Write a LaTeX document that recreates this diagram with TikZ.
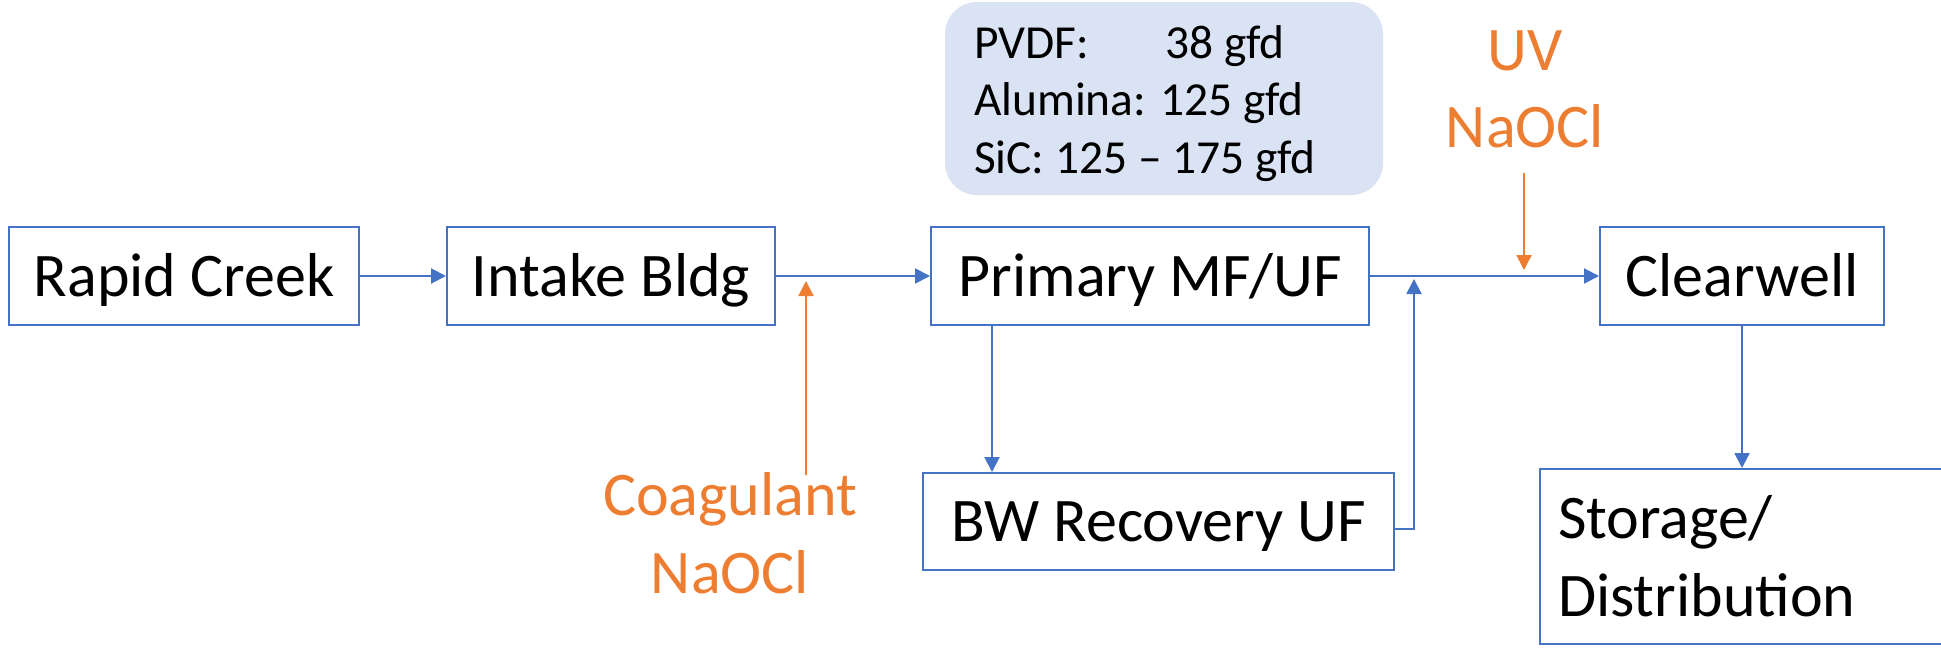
\documentclass[tikz,border=0pt]{standalone}
\usepackage{fontspec}
\setmainfont{Carlito}
\usetikzlibrary{arrows.meta,calc}
\definecolor{oblue}{HTML}{4472C4}
\definecolor{oorange}{HTML}{ED7D31}
\definecolor{lblue}{HTML}{DAE3F3}
\begin{document}
\begin{tikzpicture}[x=0.5pt,y=-0.5pt,
  box/.style={draw=oblue, line width=1pt, inner sep=0pt, minimum height=48.75pt,
    text height=25pt, text depth=5pt, font=\fontsize{31}{37.8}\selectfont},
  arr/.style={draw=oblue, line width=1pt, -{Triangle[length=7.5pt,width=7.5pt]}},
  oarr/.style={draw=oorange, line width=1pt, -{Triangle[length=7.5pt,width=7.5pt]}},
  lbl/.style={text=oorange, text width=200pt, align=center, anchor=north, inner sep=0pt,
    text height=20pt},
]
\clip (0,0) rectangle (1941,649);
\fill[white] (0,0) rectangle (1941,649);

% info box
\node[fill=lblue, rounded corners=16pt, minimum height=96.5pt, inner xsep=14.5pt, inner ysep=0pt,
      text width=190pt, align=flush left, text height=20pt, text depth=60.5pt,
      font=\fontsize{23.7}{28.75}\selectfont] (info) at (1164,98.5)
  {\rlap{PVDF:}\hphantom{Alumina: }\hspace{2.5pt}38 gfd\\Alumina: 125 gfd\\SiC: 125 – 175 gfd};

% process boxes
\node[box, minimum width=175pt] (rc) at (184,276) {Rapid Creek};
\node[box, minimum width=164pt] (ib) at (611,276) {Intake Bldg};
\node[box, minimum width=219pt] (pm) at (1150,276) {Primary MF/UF};
\node[box, minimum width=142pt] (cw) at (1742,276) {Clearwell};
\node[box, minimum width=235.5pt, minimum height=48.5pt] (bw) at (1158.5,521.5) {BW Recovery UF};
\node[draw=oblue, line width=1pt, anchor=north west, minimum height=87.5pt, inner xsep=9pt,
      inner ysep=0pt, text width=202pt, align=flush left, font=\fontsize{31}{39}\selectfont] (sd) at (1539,468)
  {Storage/\\Distribution};

% chemical labels
\node[lbl, text depth=51pt, font=\fontsize{31}{38.5}\selectfont] (uv) at (1525,30) {UV\\NaOCl};
\node[lbl, text depth=40pt, font=\fontsize{31}{39}\selectfont] (coag) at (730,475) {Coagulant\\NaOCl};

% connectors
\draw[arr] (rc) -- (ib);
\draw[arr] (ib) -- (pm);
\draw[arr] (pm) -- (cw);
\draw[arr] ([xshift=31pt]pm.south west) -- ([xshift=31pt]pm.south west |- bw.north);
\coordinate (ret) at (1414,279);
\draw[arr] ([yshift=-3.75pt]bw.east) -| (ret);
\draw[arr] (cw.south) -- (cw.south |- sd.north);
\coordinate (cj) at (806,281);
\draw[oarr] (cj |- coag.north) -- (cj);
\coordinate (uj) at (1524,270);
\draw[oarr] (uv.south -| uj) -- (uj);
\end{tikzpicture}
\end{document}
